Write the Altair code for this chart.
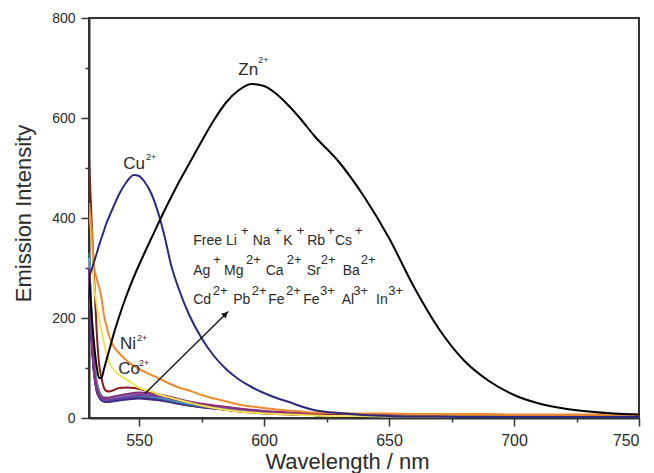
import altair as alt
import pandas as pd

# ---------------- data ----------------
WL = [530, 531, 532, 533, 534, 535, 536, 537, 538,
      540, 542, 545, 548, 550, 552, 555, 558, 560,
      563, 566, 570, 575, 580, 585, 590, 595,
      600, 605, 610, 615, 620,
      630, 640, 650, 660, 670, 680, 690, 700, 710, 720, 730, 740, 750]

ZN = [290, 210, 150, 105, 80, 80, 98, 116, 134,
      170, 202, 245, 283, 306, 328, 360, 392, 413,
      443, 472, 508, 553, 596, 632, 656, 668,
      664, 648, 624, 596, 565,
      512, 443, 360, 262, 178, 115, 74, 46, 29, 19, 13, 9, 7]
CU = [282, 296, 312, 328, 345, 360, 375, 390, 402,
      425, 447, 472, 486, 484, 474, 448, 405, 368,
      303, 257, 207, 160, 124, 97, 77, 62,
      50, 40, 32, 23, 16,
      10, 6, 4, 3, 3, 2, 2, 2, 2, 2, 2, 2, 2]
NI = [430, 380, 305, 280, 262, 240, 205, 185, 165,
      142, 130, 115, 104, 98, 93, 86, 79, 74,
      67, 61, 55, 46, 39, 33, 27, 23,
      20, 17, 15, 13, 11,
      10, 9, 9, 8, 8, 8, 8, 7, 7, 7, 7, 7, 7]
CO = [420, 360, 265, 230, 200, 176, 150, 128, 112,
      96, 87, 77, 67, 61, 57, 53, 47, 44,
      40, 36, 31, 25, 20, 16, 13, 11,
      9, 8, 7, 6, 5,
      4, 4, 3, 3, 3, 3, 3, 3, 3, 3, 3, 3, 3]
MAROON = [520, 400, 285, 180, 110, 80, 60, 54, 53,
          56, 60, 61, 60, 58, 56, 52, 47, 44,
          40, 36, 31, 25, 20, 16, 13, 11,
          9, 8, 7, 6, 6,
          5, 5, 5, 4, 4, 4, 4, 4, 4, 4, 4, 4, 4]

WL_B = [530, 531, 532, 533, 534, 535, 536, 537, 540, 545, 550, 555,
        560, 565, 570, 580, 590, 600, 610, 620, 640, 670, 700, 750]
BUNDLE = {
    "Free": [330, 210, 120, 75, 55, 45, 41, 40, 41, 44, 45, 43, 39, 34, 29, 22, 16, 12, 9, 7, 5, 4, 3, 2],
    "Li":   [315, 192, 110, 70, 52, 43, 40, 39, 40, 43, 44, 42, 38, 33, 28, 21, 16, 12, 9, 7, 5, 4, 3, 2],
    "Na":   [300, 180, 100, 65, 48, 40, 37, 36, 38, 41, 43, 41, 37, 32, 27, 21, 15, 11, 8, 6, 4, 3, 3, 2],
    "K":    [290, 170, 95, 60, 45, 38, 35, 34, 36, 40, 42, 40, 36, 31, 26, 20, 15, 11, 8, 6, 4, 3, 3, 2],
    "Rb":   [280, 160, 90, 55, 42, 35, 33, 32, 34, 38, 40, 38, 35, 30, 25, 19, 14, 10, 8, 6, 4, 3, 3, 2],
    "Ca":   [290, 165, 92, 58, 43, 36, 33, 32, 34, 37, 39, 37, 34, 29, 25, 19, 14, 10, 8, 6, 4, 3, 2, 2],
    "Pb":   [285, 165, 93, 58, 44, 37, 34, 33, 35, 39, 41, 39, 36, 31, 26, 20, 15, 10, 8, 6, 4, 3, 2, 2],
    "Cd":   [295, 172, 96, 60, 46, 39, 36, 35, 37, 41, 43, 41, 37, 32, 27, 20, 15, 11, 8, 6, 4, 3, 3, 2],
    "Ba":   [320, 200, 115, 72, 53, 44, 40, 39, 41, 44, 45, 43, 39, 33, 28, 21, 16, 12, 9, 7, 5, 4, 3, 2],
    "Mg":   [320, 195, 110, 70, 51, 44, 41, 40, 42, 46, 47, 45, 41, 35, 30, 23, 17, 12, 9, 7, 5, 4, 3, 2],
    "Ag":   [310, 185, 105, 66, 50, 43, 41, 41, 43, 47, 49, 47, 43, 37, 32, 24, 18, 13, 10, 7, 5, 4, 3, 2],
    "Cs":   [300, 175, 100, 62, 47, 40, 37, 36, 38, 42, 46, 45, 42, 36, 31, 24, 18, 13, 10, 8, 5, 4, 3, 2],
    "Sr":   [300, 180, 100, 64, 48, 42, 40, 40, 43, 48, 51, 49, 45, 39, 33, 25, 19, 14, 11, 8, 6, 4, 3, 2],
}
BUNDLE_COLORS = ["#16807a", "#3f9b43", "#3060c0", "#29307f", "#5b2a90", "#4a2a7a",
                 "#3b2d8c", "#4b4f9e", "#2a9ab0", "#6ba3d8", "#8090b2", "#7b3c9f", "#8b2d80"]

# annotation texts (data coordinates)
BIG_BASE = [("Zn", 589.7, 697), ("Cu", 543.7, 509), ("Ni", 542.4, 149), ("Co", 541.7, 99)]
BIG_SUP = [("2+", 597.7, 716), ("2+", 552.8, 523), ("2+", 549.2, 161), ("2+", 550.0, 111)]
ION_BASE = [("Free", 571.7, 355), ("Li", 584.8, 355), ("Na", 595.5, 355), ("K", 607.7, 355),
            ("Rb", 617.3, 355), ("Cs", 628.4, 355),
            ("Ag", 571.7, 295), ("Mg", 584.0, 295), ("Ca", 600.7, 295), ("Sr", 617.1, 295),
            ("Ba", 631.5, 295),
            ("Cd", 571.7, 237), ("Pb", 587.7, 237), ("Fe", 601.7, 237), ("Fe", 615.7, 237),
            ("Al", 631.1, 237), ("In", 644.8, 237)]
ION_SUP = [("+", 590.8, 375), ("+", 604.0, 375), ("+", 613.1, 375), ("+", 625.2, 375), ("+", 636.4, 375),
           ("+", 579.7, 316), ("2+", 592.8, 316), ("2+", 609.1, 316), ("2+", 622.7, 316), ("2+", 638.7, 316),
           ("2+", 579.5, 254), ("2+", 595.1, 254), ("2+", 608.8, 254), ("3+", 622.4, 254),
           ("3+", 635.7, 254), ("3+", 649.7, 254)]
ARROW = {"wl": [552.4], "I": [49], "wl2": [585.7], "I2": [213]}
ARROW_HEAD = {"wl": [584.6], "I": [208]}

# ---------------- chart ----------------
FONT = "Liberation Sans"
TXT = "#2a2a2a"

xs = alt.Scale(domain=[530, 750], nice=False, zero=False)
ys = alt.Scale(domain=[0, 800], nice=False)

x_axis = alt.Axis(
    title="Wavelength / nm",
    values=[550, 575, 600, 625, 650, 675, 700, 725, 750],
    labelExpr="datum.value % 50 === 0 ? datum.label : ''",
    tickSize={"condition": {"test": "datum.value % 50 === 0", "value": 8}, "value": 4},
    labelFontSize=16, labelPadding=6,
    titleFontSize=22, titleFontWeight="normal", titleX=258, titleY=43,
    titleBaseline="middle", titleAnchor="start", titleAlign="center",
)
y_axis = alt.Axis(
    title="Emission Intensity",
    values=[0, 100, 200, 300, 400, 500, 600, 700, 800],
    labelExpr="datum.value % 200 === 0 ? datum.label : ''",
    tickSize={"condition": {"test": "datum.value % 200 === 0", "value": 8}, "value": 4},
    labelFontSize=14, labelPadding=6,
    titleFontSize=22, titleFontWeight="normal", titleX=-66, titleY=195,
    titleBaseline="middle", titleAnchor="start", titleAlign="center",
)

def line_df(name, wl, vals):
    return pd.DataFrame({"wl": wl, "I": vals, "ion": name})

bundle_df = pd.concat([line_df(k, WL_B, v) for k, v in BUNDLE.items()], ignore_index=True)

bundle = alt.Chart(bundle_df).mark_line(strokeWidth=2, interpolate="monotone").encode(
    x=alt.X("wl:Q", scale=xs, axis=x_axis),
    y=alt.Y("I:Q", scale=ys, axis=y_axis),
    color=alt.Color("ion:N", scale=alt.Scale(domain=list(BUNDLE.keys()), range=BUNDLE_COLORS), legend=None),
    detail="ion:N",
)

def single(name, vals, color, width=2):
    return alt.Chart(line_df(name, WL, vals)).mark_line(
        strokeWidth=width, interpolate="monotone", color=color, clip=True
    ).encode(x=alt.X("wl:Q", scale=xs), y=alt.Y("I:Q", scale=ys))

maroon = single("maroon", MAROON, "#8b1c1c")
co = single("Co", CO, "#f0e45a")
ni = single("Ni", NI, "#ee8a2c")
cu = single("Cu", CU, "#2c2a80")
zn = single("Zn", ZN, "#000000")

arrow = alt.Chart(pd.DataFrame(ARROW)).mark_rule(color="#111111", strokeWidth=1.3).encode(
    x=alt.X("wl:Q", scale=xs), y=alt.Y("I:Q", scale=ys), x2="wl2:Q", y2="I2:Q")
head = alt.Chart(pd.DataFrame(ARROW_HEAD)).mark_point(
    shape="triangle-up", filled=True, color="#111111", size=45, angle=45, opacity=1
).encode(x=alt.X("wl:Q", scale=xs), y=alt.Y("I:Q", scale=ys))

def text_layer(items, size):
    df = pd.DataFrame(items, columns=["t", "wl", "I"])
    return alt.Chart(df).mark_text(
        align="left", baseline="middle", font=FONT, fontSize=size, color=TXT
    ).encode(x=alt.X("wl:Q", scale=xs), y=alt.Y("I:Q", scale=ys), text="t:N")

chart = alt.layer(
    bundle, maroon, co, ni, cu, zn, arrow, head,
    text_layer(BIG_BASE, 17), text_layer(BIG_SUP, 9),
    text_layer(ION_BASE, 14), text_layer(ION_SUP, 13),
).properties(
    width=550, height=400,
    autosize=alt.AutoSizeParams(type="none"),
    padding={"left": 81, "top": 10, "right": 7, "bottom": 55},
).configure_view(
    stroke="#333333", strokeWidth=2
).configure_axis(
    grid=False, domainColor="#333333", domainWidth=2, tickColor="#333333", tickWidth=1.5,
    labelColor=TXT, titleColor=TXT, labelFont=FONT, titleFont=FONT,
)

chart.save("out.html", embed_options={"renderer": "svg", "actions": False})
